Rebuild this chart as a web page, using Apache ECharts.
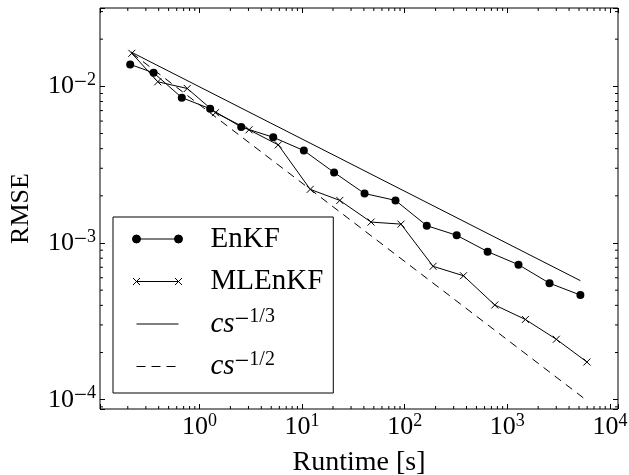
<!DOCTYPE html>
<html>
<head>
<meta charset="utf-8">
<script src="https://cdn.jsdelivr.net/npm/echarts@6/dist/echarts.min.js"></script>
<style>
html, body { margin: 0; padding: 0; background: #fff; }
#chart { width: 629px; height: 475px; }
</style>
</head>
<body>
<div id="chart"></div>
<script>
// runtime [s] and RMSE
var enkfTime = [0.211, 0.357, 0.672, 1.27, 2.55, 5.23, 10.4, 20.5, 40.6, 81.3, 164, 321, 643, 1285, 2577, 5156];
var enkfRmse = [0.0138, 0.0122, 0.00847, 0.00719, 0.0055, 0.00473, 0.00389, 0.00282, 0.00207, 0.00187, 0.00129, 0.00112, 0.000881, 0.000727, 0.000554, 0.000465];
var mlenkfTime = [0.219, 0.392, 0.76, 1.43, 3.04, 5.86, 12.0, 23.3, 47.0, 92.0, 189, 374, 755, 1500, 3005, 5970];
var mlenkfRmse = [0.01625, 0.01069, 0.00969, 0.00679, 0.00528, 0.00423, 0.0022, 0.00187, 0.00136, 0.00132, 0.00071, 0.000618, 0.000402, 0.000325, 0.000243, 0.000174];
// reference rates, only the end points
var rate13Time = [0.215, 5156];
var rate13Rmse = [0.01657, 0.000575];
var rate12Time = [0.219, 5970];
var rate12Rmse = [0.0163, 0.0000987];

var xRange = [0.1072, 11990];
var yRange = [0.0000872, 0.03162];
var xDecades = [0.1, 1, 10, 100, 1000, 10000];
var yDecades = [0.00001, 0.0001, 0.001, 0.01];
var minorSteps = [2, 3, 4, 5, 6, 7, 8, 9];

var FONT = '"Liberation Serif", "DejaVu Serif", serif';

function minorTicks(decades, range) {
    var out = [];
    decades.forEach(function (d) {
        minorSteps.forEach(function (m) {
            var v = d * m;
            if (v > range[0] && v < range[1]) out.push(v);
        });
    });
    return out;
}
var xMinor = minorTicks(xDecades, xRange);
var yMinor = minorTicks(yDecades, yRange);

function zip(a, b) {
    return a.map(function (v, i) { return [v, b[i]]; });
}

//只在10的整数次幂处写标签
function powLabel(v) {
    var l = Math.log10(v);
    var e = Math.round(l);
    if (Math.abs(l - e) > 1e-6) return '';
    return '{b|10}' + (e < 0 ? '{m|\u2212}{s|' + (-e) + '}' : '{s|' + e + '}');
}

var tickRich = {
    b: { fontFamily: FONT, fontSize: 26, lineHeight: 30, color: '#000' },
    m: { fontFamily: FONT, fontSize: 23, lineHeight: 14, color: '#000', verticalAlign: 'top' },
    s: { fontFamily: FONT, fontSize: 18, lineHeight: 14, color: '#000', verticalAlign: 'top' }
};

function tickItem(dir) {
    return function (params, api) {
        var segs;
        if (dir === 'x') {
            var v = api.value(0);
            var b = api.coord([v, yRange[0]]), t = api.coord([v, yRange[1]]);
            segs = [[b[0], b[1], b[0], b[1] - 3], [t[0], t[1], t[0], t[1] + 3]];
        } else {
            var w = api.value(1);
            var l = api.coord([xRange[0], w]), r = api.coord([xRange[1], w]);
            segs = [[l[0], l[1], l[0] + 3, l[1]], [r[0], r[1], r[0] - 3, r[1]]];
        }
        return {
            type: 'group',
            children: segs.map(function (s) {
                return {
                    type: 'line',
                    shape: { x1: s[0], y1: s[1], x2: s[2], y2: s[3] },
                    style: { stroke: '#000', lineWidth: 1 }
                };
            })
        };
    };
}

function logAxis(range, pos, extra) {
    var ax = {
        type: 'log',
        logBase: 10,
        min: range[0],
        max: range[1],
        position: pos,
        axisLine: { show: false },
        axisTick: { show: true, inside: true, length: 5, interval: 0, lineStyle: { color: '#000', width: 1 } },
        axisLabel: { show: false },
        splitLine: { show: false },
        minorTick: { show: false }
    };
    return Object.assign(ax, extra || {});
}

// every row gets the same token layout so the rows come out the same height
var legendText = {
    'EnKF': '{g|}{t|EnKF}{s| }',
    'MLEnKF': '{g|}{t|MLEnKF}{s| }',
    'cs13': '{g|}{i|cs}{m|\u2212}{s|1/3}',
    'cs12': '{g|}{i|cs}{m|\u2212}{s|1/2}'
};

var option = {
    animation: false,
    grid: {
        left: 100, top: 8, width: 518, height: 401,
        show: true, borderColor: '#000', borderWidth: 1, backgroundColor: 'transparent',
        outerBoundsMode: 'none'
    },
    legend: {
        orient: 'vertical',
        left: 113, top: 217,
        padding: [5, 5, 12, 17],
        itemWidth: 50, itemHeight: 10, itemGap: 11,
        borderColor: '#000', borderWidth: 1, borderRadius: 0,
        backgroundColor: '#fff',
        selectedMode: false,
        formatter: function (name) { return legendText[name]; },
        textStyle: {
            color: '#000',
            rich: {
                g: { width: 23 },
                t: { fontFamily: FONT, fontSize: 29, lineHeight: 34, color: '#000' },
                i: { fontFamily: FONT, fontStyle: 'italic', fontSize: 29, lineHeight: 34, color: '#000' },
                m: { fontFamily: FONT, fontSize: 26, lineHeight: 18, color: '#000', verticalAlign: 'top' },
                s: { fontFamily: FONT, fontSize: 20, lineHeight: 18, color: '#000', verticalAlign: 'top' }
            }
        },
        data: [{
            name: 'EnKF',
            icon: 'path://M0,5a4,4 0 1,0 8,0a4,4 0 1,0 -8,0zM4,5L46,5M42,5a4,4 0 1,0 8,0a4,4 0 1,0 -8,0z',
            itemStyle: { color: '#000', borderColor: '#000', borderWidth: 1 }
        }, {
            name: 'MLEnKF',
            icon: 'path://M0.5,1.5L7.5,8.5M0.5,8.5L7.5,1.5M4,5L46,5M42.5,1.5L49.5,8.5M42.5,8.5L49.5,1.5M0,0L0.01,0M50,10L49.99,10',
            itemStyle: { color: 'none', borderColor: '#000', borderWidth: 1 }
        }, {
            name: 'cs13',
            icon: 'path://M0,0L0.01,0M50,10L49.99,10M4,5L46,5',
            itemStyle: { color: 'none', borderColor: '#000', borderWidth: 1 }
        }, {
            name: 'cs12',
            icon: 'path://M0,0L0.01,0M50,10L49.99,10M4,5L13,5M19,5L28,5M34,5L43,5',
            itemStyle: { color: 'none', borderColor: '#000', borderWidth: 1 }
        }]
    },
    xAxis: [
        logAxis(xRange, 'bottom', {
            axisLabel: { show: true, interval: 0, margin: 3, formatter: powLabel, rich: tickRich, hideOverlap: false },
            name: 'Runtime [s]',
            nameLocation: 'middle',
            nameGap: 40,
            nameTextStyle: { fontFamily: FONT, fontSize: 28, color: '#000' }
        }),
        logAxis(xRange, 'top')
    ],
    yAxis: [
        logAxis(yRange, 'left', {
            axisLabel: { show: true, interval: 0, margin: 4, formatter: powLabel, rich: tickRich, hideOverlap: false },
            name: 'RMSE',
            nameLocation: 'middle',
            nameRotate: 90,
            nameGap: 66,
            nameTextStyle: { fontFamily: FONT, fontSize: 26, color: '#000' }
        }),
        logAxis(yRange, 'right')
    ],
    series: [{
        name: 'EnKF',
        type: 'line',
        data: zip(enkfTime, enkfRmse),
        symbol: 'circle',
        symbolSize: 8,
        showAllSymbol: true,
        silent: true,
        lineStyle: { color: '#000', width: 1 },
        itemStyle: { color: '#000' },
        z: 3
    }, {
        name: 'MLEnKF',
        type: 'line',
        data: zip(mlenkfTime, mlenkfRmse),
        symbol: 'path://M0,0L10,10M0,10L10,0',
        symbolSize: 7,
        showAllSymbol: true,
        silent: true,
        lineStyle: { color: '#000', width: 1 },
        itemStyle: { color: '#000', borderColor: '#000', borderWidth: 1 },
        z: 3
    }, {
        name: 'cs13',
        type: 'line',
        data: zip(rate13Time, rate13Rmse),
        symbol: 'none',
        silent: true,
        lineStyle: { color: '#000', width: 1 },
        itemStyle: { color: '#000' },
        z: 3
    }, {
        name: 'cs12',
        type: 'line',
        data: zip(rate12Time, rate12Rmse),
        symbol: 'none',
        silent: true,
        lineStyle: { color: '#000', width: 1, type: [8, 6] },
        itemStyle: { color: '#000' },
        z: 3
    }, {
        type: 'custom',
        data: xMinor.map(function (v) { return [v, yRange[0]]; }),
        renderItem: tickItem('x'),
        silent: true,
        clip: false,
        z: 4
    }, {
        type: 'custom',
        data: yMinor.map(function (v) { return [xRange[0], v]; }),
        renderItem: tickItem('y'),
        silent: true,
        clip: false,
        z: 4
    }]
};

var chart = echarts.init(document.getElementById('chart'), null, { renderer: 'canvas' });
chart.setOption(option);
</script>
</body>
</html>
